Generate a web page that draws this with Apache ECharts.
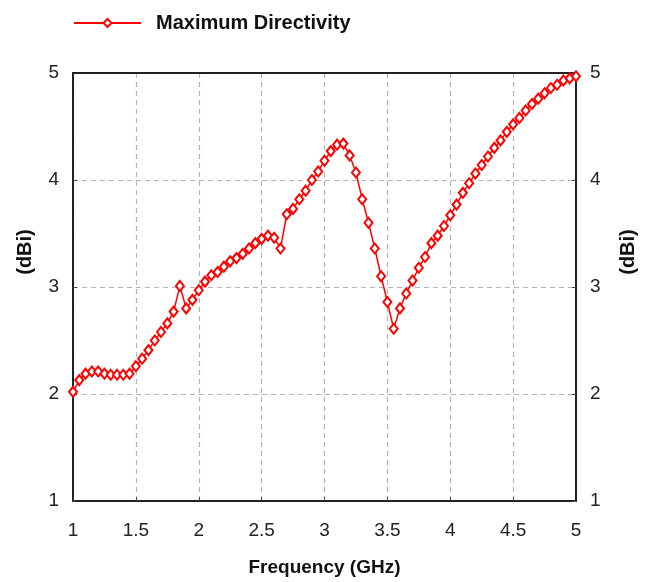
<!DOCTYPE html>
<html lang="en">
<head>
<meta charset="UTF-8">
<title>Maximum Directivity</title>
<script src="https://cdn.jsdelivr.net/npm/echarts@6/dist/echarts.min.js"></script>
<style>
  html, body { margin: 0; padding: 0; background: #fff; }
</style>
</head>
<body>
<div id="chart" style="width:650px;height:582px;"></div>
<script type="text/javascript">
var seriesName = 'Maximum Directivity';
var freq = [
  1.00, 1.05, 1.10, 1.15, 1.20, 1.25, 1.30, 1.35, 1.40, 1.45,
  1.50, 1.55, 1.60, 1.65, 1.70, 1.75, 1.80, 1.85, 1.90, 1.95,
  2.00, 2.05, 2.10, 2.15, 2.20, 2.25, 2.30, 2.35, 2.40, 2.45,
  2.50, 2.55, 2.60, 2.65, 2.70, 2.75, 2.80, 2.85, 2.90, 2.95,
  3.00, 3.05, 3.10, 3.15, 3.20, 3.25, 3.30, 3.35, 3.40, 3.45,
  3.50, 3.55, 3.60, 3.65, 3.70, 3.75, 3.80, 3.85, 3.90, 3.95,
  4.00, 4.05, 4.10, 4.15, 4.20, 4.25, 4.30, 4.35, 4.40, 4.45,
  4.50, 4.55, 4.60, 4.65, 4.70, 4.75, 4.80, 4.85, 4.90, 4.95,
  5.00
];
var directivity = [
  2.02, 2.13, 2.19, 2.21, 2.21, 2.19, 2.18, 2.18, 2.18, 2.19,
  2.26, 2.33, 2.41, 2.50, 2.58, 2.66, 2.77, 3.01, 2.80, 2.88,
  2.97, 3.05, 3.11, 3.14, 3.19, 3.24, 3.27, 3.31, 3.36, 3.41,
  3.45, 3.48, 3.46, 3.36, 3.68, 3.73, 3.82, 3.90, 4.00, 4.08,
  4.18, 4.27, 4.33, 4.34, 4.23, 4.07, 3.82, 3.60, 3.36, 3.10,
  2.86, 2.61, 2.80, 2.94, 3.06, 3.18, 3.28, 3.41, 3.48, 3.57,
  3.67, 3.77, 3.88, 3.97, 4.06, 4.14, 4.22, 4.30, 4.37, 4.45,
  4.52, 4.58, 4.65, 4.71, 4.76, 4.81, 4.86, 4.89, 4.93, 4.95,
  4.97
];
var xTicks = { min: 1, max: 5, step: 0.5 };
var yTicks = { min: 1, max: 5, step: 1 };

var font = '"Liberation Sans", Arial, sans-serif';

var points = freq.map(function (f, i) { return [f, directivity[i]]; });

var chart = echarts.init(document.getElementById('chart'), null, { renderer: 'canvas' });

var gridLine = { show: true, lineStyle: { color: '#b4b4b4', type: [5, 4], width: 1.2 } };
var frameLine = { show: true, lineStyle: { color: '#222', width: 2 } };
var tick = { show: true, inside: true, length: 4, lineStyle: { color: '#444' } };

var option = {
  animation: false,
  backgroundColor: '#fff',
  legend: {
    data: [seriesName],
    left: 73,
    top: 13,
    padding: 0,
    itemWidth: 67,
    itemHeight: 10,
    selectedMode: false,
    textStyle: {
      fontFamily: font,
      fontWeight: 'bold',
      fontSize: 20,
      color: '#111',
      padding: [0, 0, 0, 10]
    }
  },
  grid: {
    left: 73,
    top: 73,
    width: 503,
    height: 428,
    show: true,
    borderColor: '#222',
    borderWidth: 2,
    backgroundColor: '#fff'
  },
  xAxis: [{
    type: 'value',
    position: 'bottom',
    min: xTicks.min,
    max: xTicks.max,
    interval: xTicks.step,
    name: 'Frequency (GHz)',
    nameLocation: 'middle',
    nameGap: 57,
    nameTextStyle: { fontFamily: font, fontWeight: 'bold', fontSize: 19, color: '#111' },
    axisLine: frameLine,
    axisTick: tick,
    axisLabel: { fontFamily: font, fontSize: 19, color: '#222', margin: 20 },
    splitLine: gridLine
  }, {
    // top edge of the frame, drawn above the dashed grid
    type: 'value',
    position: 'top',
    min: xTicks.min,
    max: xTicks.max,
    interval: xTicks.step,
    z: 3,
    axisLine: frameLine,
    axisTick: { show: false },
    axisLabel: { show: false },
    splitLine: { show: false }
  }],
  yAxis: [{
    type: 'value',
    position: 'left',
    min: yTicks.min,
    max: yTicks.max,
    interval: yTicks.step,
    name: '(dBi)',
    nameLocation: 'middle',
    nameRotate: 90,
    nameGap: 38,
    nameTextStyle: { fontFamily: font, fontWeight: 'bold', fontSize: 20, color: '#111', padding: [0, 0, 0, 70] },
    axisLine: frameLine,
    axisTick: tick,
    axisLabel: { fontFamily: font, fontSize: 19, color: '#222', margin: 14 },
    splitLine: gridLine
  }, {
    type: 'value',
    position: 'right',
    min: yTicks.min,
    max: yTicks.max,
    interval: yTicks.step,
    z: 3,
    name: '(dBi)',
    nameLocation: 'middle',
    nameRotate: 90,
    nameGap: 42,
    nameTextStyle: { fontFamily: font, fontWeight: 'bold', fontSize: 20, color: '#111', padding: [0, 0, 0, 70] },
    axisLine: frameLine,
    axisTick: tick,
    axisLabel: { fontFamily: font, fontSize: 19, color: '#222', margin: 14 },
    splitLine: { show: false }
  }],
  series: [{
    name: seriesName,
    type: 'line',
    data: points,
    xAxisIndex: 0,
    yAxisIndex: 0,
    symbol: 'emptyDiamond',
    symbolSize: [8, 10],
    showAllSymbol: true,
    color: '#ff0000',
    lineStyle: { color: '#ff0000', width: 1.5 },
    itemStyle: { color: '#ff0000', borderColor: '#ff0000', borderWidth: 1.3 },
    z: 5
  }]
};

chart.setOption(option);
</script>
</body>
</html>
